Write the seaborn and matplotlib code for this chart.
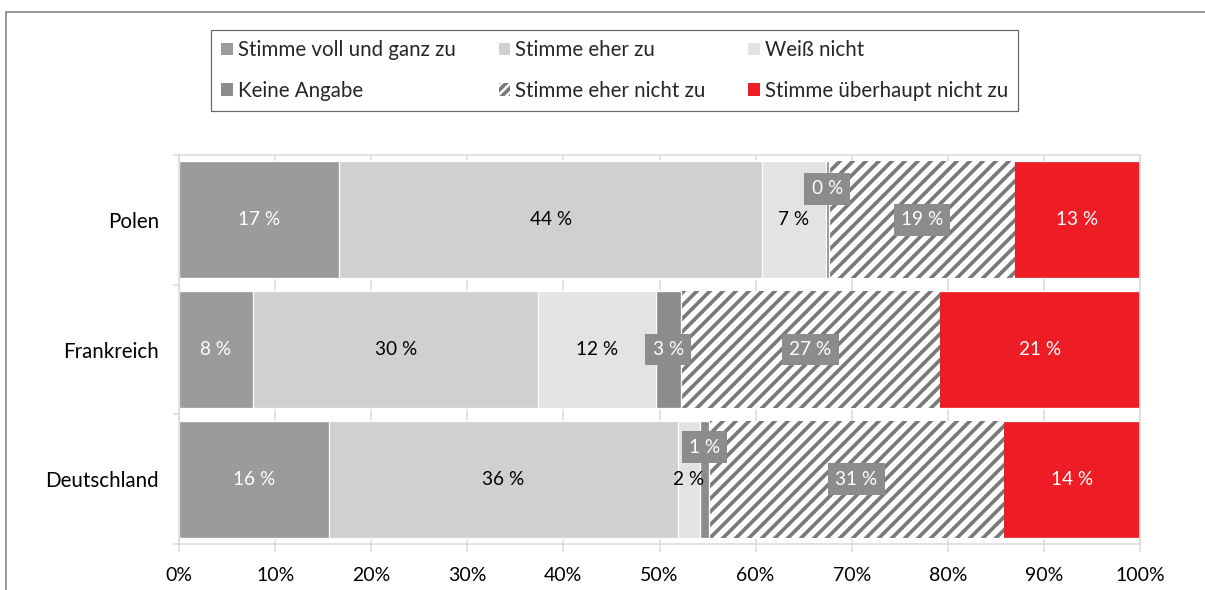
import matplotlib
matplotlib.use("Agg")
import matplotlib.pyplot as plt
import matplotlib.patches as mpatches
from matplotlib.lines import Line2D
import seaborn as sns
import pandas as pd

# ---- data ----
countries = ["Polen", "Frankreich", "Deutschland"]
series_names = ["Stimme voll und ganz zu", "Stimme eher zu", "Weiß nicht",
                "Keine Angabe", "Stimme eher nicht zu", "Stimme überhaupt nicht zu"]
voll = [16.7, 7.7, 15.6]
eher = [44.0, 29.7, 36.3]
weiss = [6.6, 12.2, 2.3]
keine = [0.3, 2.6, 1.0]
eher_nicht = [19.4, 27.0, 30.6]
ueberhaupt = [13.0, 20.8, 14.2]
x_ticks = [0, 10, 20, 30, 40, 50, 60, 70, 80, 90, 100]

values = [voll, eher, weiss, keine, eher_nicht, ueberhaupt]

# ---- styles ----
DPI = 78
PT = 72 / DPI  # points per pixel
sns.set_theme(style="white")
plt.rcParams["font.family"] = ["Lato", "DejaVu Sans"]
plt.rcParams["hatch.linewidth"] = 3.4

colors = ["#9b9b9b", "#d0d0d0", "#e3e3e3", "#8c8c8c", "#ffffff", "#ee1c25"]
hatches = [None, None, None, None, "//", None]
text_colors = ["white", "black", "black", "white", "white", "white"]
boxed = [False, False, False, True, True, False]
hatch_gray = "#7a7a7a"
grid_gray = "#d9d9d9"
# vertical offsets (in pixels, upward) for some labels
label_offsets = {("Polen", 3): 31, ("Deutschland", 3): 32}

fig = plt.figure(figsize=(1205 / DPI, 590 / DPI), dpi=DPI)
ax = fig.add_axes([179 / 1205, 1 - 544 / 590, (1140 - 179) / 1205, (544 - 155) / 590])

df = pd.DataFrame({"country": countries})
cum = [0.0] * len(countries)
cums = []
for vals in values:
    cum = [c + v for c, v in zip(cum, vals)]
    cums.append(cum)

for i in reversed(range(len(values))):
    df["cum"] = cums[i]
    kw = dict(saturation=1, width=0.9, orient="h", ax=ax, zorder=2)
    if hatches[i]:
        sns.barplot(data=df, x="cum", y="country", order=countries, color="white",
                    edgecolor=hatch_gray, hatch=hatches[i], linewidth=0, **kw)
    else:
        sns.barplot(data=df, x="cum", y="country", order=countries, color=colors[i],
                    edgecolor="white", linewidth=1.2, **kw)

# labels
fs_label = 19 * PT
for j, c in enumerate(countries):
    for i, vals in enumerate(values):
        start = cums[i][j] - vals[j]
        xc = start + vals[j] / 2
        off = label_offsets.get((c, i), 0)
        txt = f"{vals[j]:.0f} %"
        t = ax.annotate(txt, xy=(xc, j), xytext=(0, off), textcoords="offset pixels",
                        ha="center", va="center", color=text_colors[i], fontsize=fs_label,
                        zorder=5)
        if boxed[i]:
            t.set_bbox(dict(boxstyle="square,pad=0.38", fc="#8c8c8c", ec="none"))

ax.set_xlim(0, 100)
ax.set_ylim(2.5, -0.5)
ax.set_xticks(x_ticks)
ax.set_xticklabels([f"{t}%" for t in x_ticks], fontsize=19.5 * PT, color="black")
ax.set_yticks(range(len(countries)))
ax.set_yticklabels(countries, fontsize=20.5 * PT, color="black")
ax.set_yticks([-0.5, 0.5, 1.5, 2.5], minor=True)
ax.tick_params(axis="y", which="major", length=0, pad=20 * PT)
ax.tick_params(axis="y", which="minor", length=6 * PT, color=grid_gray, width=1.5 * PT, left=True)
ax.tick_params(axis="x", which="major", length=8 * PT, color=grid_gray, width=1.5 * PT,
               bottom=True, pad=15 * PT)
ax.set_xlabel("")
ax.set_ylabel("")
ax.grid(axis="x", color=grid_gray, linewidth=1.5 * PT, zorder=0)
ax.set_axisbelow(True)
for s in ax.spines.values():
    s.set_visible(True)
    s.set_color(grid_gray)
    s.set_linewidth(1.5 * PT)

# legend (row-major order in 3 columns)
handles = []
for i, name in enumerate(series_names):
    if hatches[i]:
        h = mpatches.Patch(facecolor="white", edgecolor=hatch_gray, hatch="///", linewidth=0, label=name)
    else:
        h = mpatches.Patch(facecolor=colors[i], edgecolor="none", label=name)
    handles.append(h)
order = [0, 3, 1, 4, 2, 5]
leg = fig.legend([handles[k] for k in order], [series_names[k] for k in order],
                 ncol=3, loc="upper left", bbox_to_anchor=(211 / 1205, 1 - 30 / 590),
                 borderaxespad=0, frameon=True, fancybox=False, fontsize=20.5 * PT,
                 handlelength=0.55, handleheight=0.55, handletextpad=0.25,
                 columnspacing=2.1, labelspacing=1.0, borderpad=0.5)
leg.get_frame().set_edgecolor("#404040")
leg.get_frame().set_linewidth(1.2 * PT)

# outer frame (cropped chart border)
fig.add_artist(Line2D([6 / 1205, 6 / 1205], [0, 1 - 12 / 590], transform=fig.transFigure,
                      color="#808080", linewidth=1.6 * PT))
fig.add_artist(Line2D([6 / 1205, 1], [1 - 12 / 590, 1 - 12 / 590], transform=fig.transFigure,
                      color="#808080", linewidth=1.6 * PT))

fig.savefig("out.png", dpi=DPI)
